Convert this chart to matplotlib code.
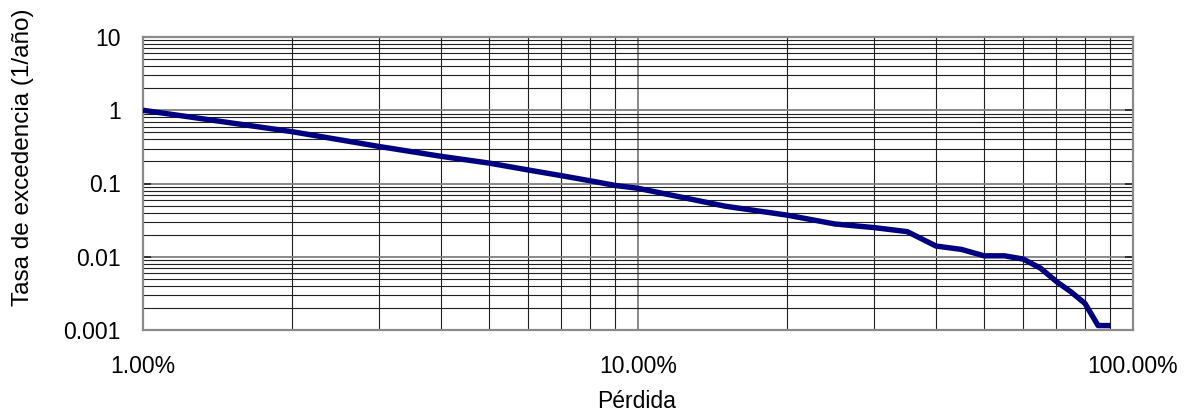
import numpy as np
from matplotlib import pyplot as plt
from matplotlib.ticker import FuncFormatter, LogLocator, NullFormatter

# loss (fraction) vs exceedance rate (1/year)
perdida = [0.01, 0.02, 0.03, 0.04, 0.05, 0.06, 0.07, 0.08, 0.09, 0.10,
           0.15, 0.20, 0.25, 0.30, 0.35, 0.40, 0.45, 0.50, 0.55, 0.60,
           0.65, 0.70, 0.75, 0.80, 0.85, 0.90]
tasa = [1.0, 0.51, 0.32, 0.235, 0.19, 0.153, 0.128, 0.109, 0.094, 0.086,
        0.049, 0.037, 0.028, 0.025, 0.022, 0.014, 0.0126, 0.0103, 0.0103, 0.0093,
        0.0070, 0.0046, 0.0033, 0.0023, 0.00115, 0.00115]

plt.rcParams["font.family"] = ["Liberation Sans", "DejaVu Sans"]
plt.rcParams["font.size"] = 16.5

fig = plt.figure(figsize=(11.84, 4.13), dpi=100)
ax = fig.add_axes([143 / 1184, 1 - 330 / 413, 990 / 1184, 293 / 413])

ax.set_xscale("log")
ax.set_yscale("log")
ax.set_xlim(0.01, 1.0)
ax.set_ylim(0.001, 10)

ax.plot(perdida, tasa, color="#000080", lw=3.9, solid_capstyle="butt",
        solid_joinstyle="round", zorder=3)

ax.xaxis.set_major_locator(LogLocator(base=10, numticks=10))
ax.xaxis.set_minor_locator(LogLocator(base=10, subs=np.arange(2, 10), numticks=20))
ax.yaxis.set_major_locator(LogLocator(base=10, numticks=10))
ax.yaxis.set_minor_locator(LogLocator(base=10, subs=np.arange(2, 10), numticks=20))
ax.xaxis.set_major_formatter(FuncFormatter(lambda v, p: f"{v * 100:.2f}%"))
ax.yaxis.set_major_formatter(FuncFormatter(lambda v, p: f"{v:g}"))
ax.xaxis.set_minor_formatter(NullFormatter())
ax.yaxis.set_minor_formatter(NullFormatter())

ax.grid(which="major", color="#808080", lw=1.3)
ax.grid(which="minor", color="#202020", lw=0.8)
ax.set_axisbelow(True)

ax.tick_params(axis="x", which="both", length=0, pad=18)
ax.tick_params(axis="y", which="major", direction="in", length=6, width=1.2,
               left=True, right=True, pad=16, color="#202020")
ax.tick_params(axis="y", which="minor", length=0)

for s in ax.spines.values():
    s.set_color("#8a8a8a")
    s.set_linewidth(1.6)

fig.text(637 / 1184, 1 - 408 / 413, "Pérdida", ha="center", va="baseline")
fig.text(23 / 1184, 1 - 157 / 413, "Tasa de excedencia (1/año)", rotation=90,
         ha="center", va="center", fontsize=17.5)

plt.savefig("out.png", dpi=100)
